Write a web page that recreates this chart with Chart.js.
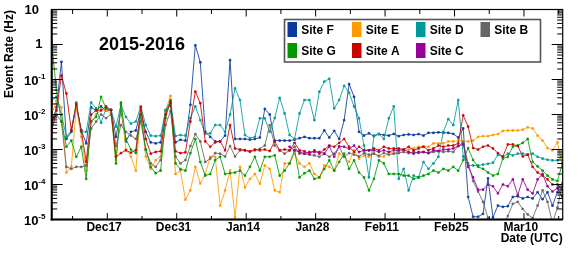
<!DOCTYPE html>
<html><head><meta charset="utf-8">
<script src="https://cdn.jsdelivr.net/npm/chart.js@4.4.1/dist/chart.umd.min.js"></script>
<style>html,body{margin:0;padding:0;background:#fff;}#wrap{width:581px;height:259px;}</style>
</head><body><div id="wrap"><canvas id="c" width="581" height="259"></canvas></div>
<script>
// one reading per day; day 0 = Dec 17 2015; first reading Dec 5 2015, last Mar 17 2016
const firstDay = -12, lastDay = 91;
const readingTime = 0.75; // time of day of each reading (fraction of a day)

const siteF = [5.0e-3,1.6e-2,0.32,2.0e-3,3.2e-3,1.8e-2,3.5e-3,1.5e-3,1.6e-2,1.3e-2,
1.7e-2,1.3e-2,1.35e-2,2.3e-3,1.3e-2,1.7e-3,3.2e-3,3.5e-3,1.3e-2,3.2e-3,
1.6e-3,1.5e-3,1.6e-3,1.35e-2,1.8e-2,1.6e-3,1.9e-3,1.8e-3,1.9e-2,0.95,
0.31,3.2e-3,2.3e-3,1.7e-3,1.7e-3,2.5e-3,0.36,2.0e-3,2.0e-3,2.0e-3,
1.9e-3,2.0e-3,2.2e-3,1.45e-2,1.0e-2,1.8e-3,1.8e-3,1.8e-3,1.8e-3,1.9e-3,
2.1e-3,2.3e-3,2.1e-3,2.1e-3,2.1e-3,3.5e-3,2.2e-3,3.4e-3,2.0e-3,6.9e-3,
7.4e-2,3.2e-2,3.2e-3,2.5e-3,2.9e-3,2.4e-3,2.75e-3,2.6e-3,2.5e-3,2.8e-3,
2.4e-3,2.6e-3,2.7e-3,2.6e-3,2.75e-3,2.5e-3,3.0e-3,3.0e-3,3.1e-3,3.0e-3,
3.0e-3,2.8e-3,2.2e-3,4.0e-3,4.4e-5,1.2e-5,1.2e-5,1.45e-5,1.5e-4,1.15e-5,
2.5e-5,2.3e-5,2.4e-5,4.4e-5,4.6e-5,4.0e-5,4.4e-5,4.0e-5,6.0e-5,3.8e-5,
6.0e-5,2.5e-5,6.0e-5,4.8e-5];
const siteE = [1.0e-2,2.5e-2,1.6e-2,2.2e-4,3.2e-4,1.6e-2,2.3e-3,2.5e-4,6.3e-3,1.0e-2,
1.4e-2,1.3e-2,1.1e-2,5.0e-4,2.1e-2,1.0e-3,6.3e-4,2.5e-4,1.3e-2,6.3e-4,
2.8e-4,5.0e-4,6.3e-4,1.3e-2,3.4e-2,2.0e-4,2.5e-4,3.7e-5,6.8e-5,3.2e-4,
1.07e-4,2.0e-4,6.2e-4,6.2e-4,2.5e-5,6.8e-5,2.5e-4,1.15e-5,3.2e-4,8.3e-5,
1.45e-4,2.0e-4,1.05e-4,3.5e-4,2.8e-4,6.8e-5,6.0e-5,4.0e-4,4.0e-4,7.6e-4,
4.0e-4,3.2e-4,4.0e-4,2.0e-4,1.6e-4,3.5e-4,3.2e-4,2.5e-4,7.6e-4,6.2e-4,
4.4e-4,9.5e-4,5.5e-4,6.8e-4,6.2e-4,7.6e-4,6.2e-4,6.3e-4,8.5e-4,7.6e-4,
8.9e-4,9.5e-4,1.0e-3,1.07e-3,1.2e-3,1.23e-3,1.2e-3,1.5e-3,1.5e-3,1.5e-3,
1.7e-3,1.7e-3,1.8e-3,1.75e-3,1.7e-3,1.8e-3,2.3e-3,2.4e-3,2.4e-3,2.6e-3,
2.75e-3,3.4e-3,3.5e-3,3.5e-3,3.5e-3,3.7e-3,4.3e-3,4.0e-3,2.5e-3,1.8e-3,
1.1e-3,9.5e-4,1.6e-3,3.5e-4];
const siteD = [2.5e-2,3.2e-2,1.0e-2,2.3e-3,3.5e-3,2.2e-2,3.2e-3,3.2e-3,2.2e-2,1.5e-2,
5.8e-3,1.5e-2,1.35e-2,4.5e-3,1.9e-2,8.5e-3,5.5e-3,6.3e-3,1.7e-2,5.0e-3,
2.5e-3,2.4e-3,2.5e-3,1.3e-2,2.5e-2,2.4e-3,2.6e-3,2.5e-3,7.9e-3,1.7e-2,
6.9e-3,2.8e-3,2.9e-3,5.0e-3,5.0e-3,3.2e-3,1.0e-2,5.6e-2,2.6e-2,2.6e-3,
2.1e-3,2.3e-3,7.8e-3,7.8e-3,3.2e-3,7.9e-3,3.0e-2,1.07e-2,2.6e-3,2.0e-3,
1.07e-2,2.6e-2,2.6e-2,6.9e-3,4.5e-2,8.7e-2,0.105,1.5e-2,2.6e-2,6.6e-2,
4.2e-2,1.7e-2,7.8e-3,1.3e-3,1.6e-4,2.5e-3,2.8e-3,2.0e-3,7.8e-3,1.7e-2,
1.45e-4,2.8e-4,6.8e-5,1.8e-4,1.6e-4,4.4e-4,2.8e-4,4.0e-4,6.2e-4,3.2e-3,
7.4e-3,5.0e-3,2.6e-2,6.3e-4,3.5e-4,3.5e-4,3.5e-4,3.7e-4,3.9e-4,4.2e-4,
7.1e-4,6.0e-4,7.6e-4,6.8e-4,7.6e-4,7.6e-4,7.2e-4,7.6e-4,6.2e-4,5.5e-4,
5.1e-4,4.9e-4,4.9e-4,6.2e-4];
const siteB = [6.3e-3,1.0e-2,6.3e-3,3.2e-4,2.8e-4,3.2e-4,3.2e-4,3.5e-4,4.0e-3,6.3e-3,
1.0e-2,7.9e-3,1.0e-2,1.26e-3,5.0e-3,3.2e-3,2.5e-3,2.0e-3,6.3e-3,1.0e-3,
4.0e-4,3.2e-4,5.0e-4,5.0e-3,1.26e-2,6.3e-4,4.0e-4,5.0e-4,1.26e-3,2.75e-3,
1.7e-3,4.4e-4,5.5e-4,7.9e-4,7.6e-4,6.3e-4,1.26e-3,6.3e-4,9.5e-4,9.5e-4,
8.5e-4,9.5e-4,1.05e-3,1.3e-3,5.0e-3,1.3e-3,9.5e-4,7.6e-4,9.5e-4,1.2e-3,
7.6e-4,7.6e-4,7.1e-4,6.8e-4,6.2e-4,7.6e-4,6.2e-4,7.6e-4,1.2e-3,6.2e-4,
7.9e-4,7.1e-4,6.3e-4,7.9e-4,7.1e-4,7.6e-4,6.6e-4,7.9e-4,7.1e-4,7.6e-4,
7.9e-4,8.5e-4,7.9e-4,8.5e-4,7.9e-4,8.5e-4,7.9e-4,8.5e-4,8.9e-4,8.5e-4,
8.9e-4,8.5e-4,1.26e-3,1.6e-3,4.0e-4,1.26e-4,6.3e-5,3.2e-5,1.1e-5,5.0e-6,
5.0e-6,6.3e-6,1.26e-5,2.8e-5,3.2e-5,2.0e-5,1.4e-5,1.1e-5,2.5e-5,6.8e-5,
3.2e-5,7.9e-6,2.2e-5,1.1e-4];
const siteG = [1.2,5.0e-2,6.3e-3,1.2e-3,1.8e-3,6.2e-4,1.2e-3,1.45e-4,6.3e-3,8.5e-3,
3.2e-2,1.5e-2,1.35e-2,4.0e-4,2.2e-2,2.0e-3,1.0e-3,7.9e-4,1.0e-2,1.0e-3,
3.2e-4,2.1e-4,2.5e-4,7.9e-3,2.5e-2,4.0e-4,2.75e-4,2.5e-4,7.9e-4,2.0e-3,
4.4e-4,1.8e-4,2.0e-4,5.0e-4,6.2e-4,2.0e-4,2.1e-4,2.2e-4,2.5e-4,1.8e-4,
3.2e-4,6.2e-4,2.5e-4,6.2e-4,6.2e-4,6.8e-4,1.8e-4,2.5e-4,4.0e-4,9.5e-4,
1.6e-4,2.1e-4,2.5e-4,1.45e-4,1.6e-4,2.8e-4,4.9e-4,2.5e-4,4.4e-4,7.6e-4,
2.8e-4,4.9e-4,2.2e-4,1.6e-4,6.8e-5,1.45e-4,4.9e-4,4.0e-4,2.0e-4,2.0e-4,
2.0e-4,1.8e-4,1.8e-4,1.45e-4,1.6e-4,1.8e-4,2.0e-4,2.5e-4,2.2e-4,2.8e-4,
2.5e-4,3.2e-4,2.5e-4,5.0e-4,1.1e-3,5.0e-4,3.2e-4,2.8e-4,2.2e-4,1.8e-4,
2.0e-4,5.5e-4,6.2e-4,1.2e-3,1.3e-3,1.55e-3,2.0e-3,4.4e-4,3.3e-4,2.5e-4,
1.8e-4,1.4e-4,1.26e-4,4.0e-4];
const siteA = [3.2e-3,1.3e-2,0.13,4.0e-2,3.5e-3,2.0e-2,3.5e-3,4.5e-4,1.0e-2,1.35e-2,
1.3e-2,1.7e-2,1.35e-2,6.2e-4,7.9e-4,9.5e-4,8.1e-4,9.5e-4,1.6e-2,2.0e-3,
7.6e-4,8.5e-4,8.9e-4,1.0e-2,2.2e-2,8.9e-4,7.9e-4,8.3e-4,6.3e-3,4.5e-2,
2.1e-2,1.7e-3,1.2e-3,1.6e-3,1.7e-3,9.5e-4,5.0e-3,1.07e-3,1.0e-3,9.5e-4,
8.9e-4,1.0e-3,9.5e-4,1.0e-3,9.1e-4,1.7e-3,9.5e-4,1.0e-3,9.5e-4,1.55e-3,
9.5e-4,8.9e-4,7.6e-4,9.5e-4,7.6e-4,1.0e-3,1.3e-3,1.2e-3,1.55e-3,2.0e-3,
1.2e-3,8.5e-4,1.2e-3,9.5e-4,9.5e-4,1.07e-3,9.5e-4,1.2e-3,1.07e-3,1.07e-3,
1.07e-3,1.0e-3,1.2e-3,9.5e-4,1.07e-3,1.2e-3,9.5e-4,1.07e-3,1.3e-3,1.2e-3,
1.3e-3,1.3e-3,1.5e-3,9.5e-3,4.5e-3,1.1e-3,1.0e-3,1.2e-3,1.3e-3,1.07e-3,
7.9e-4,6.3e-4,1.4e-3,1.4e-3,1.26e-3,6.3e-4,7.1e-4,3.2e-4,2.2e-4,1.8e-4,
1.4e-4,1.0e-4,1.0e-4,7.1e-5];
const siteC = [...Array(48).fill(null),
1.2e-3,9.5e-4,8.5e-4,7.6e-4,8.5e-4,8.5e-4,8.5e-4,7.6e-4,1.23e-3,6.2e-4,
1.23e-3,1.2e-3,1.05e-3,1.3e-3,8.5e-4,9.5e-4,9.5e-4,9.5e-4,8.5e-4,9.5e-4,
8.5e-4,9.5e-4,9.5e-4,1.0e-3,8.5e-4,7.6e-4,8.5e-4,8.5e-4,7.9e-4,9.5e-4,
9.1e-4,1.0e-3,1.0e-3,1.07e-3,1.26e-3,1.4e-3,3.2e-4,1.6e-4,7.1e-5,7.1e-5,
1.0e-4,8.9e-5,5.6e-5,1.0e-4,8.9e-5,1.4e-4,5.0e-5,1.4e-4,7.1e-5,5.6e-5,
1.4e-4,2.0e-4,8.9e-5,6.3e-5,7.9e-5,4.5e-5];

const seriesNames = ['Site F','Site E','Site D','Site B','Site G','Site A','Site C'];
const seriesValues = [siteF, siteE, siteD, siteB, siteG, siteA, siteC];
const seriesColors = ['#0b3a9e','#ff9900','#009999','#666666','#009900','#cc0000','#990099'];
const xTickLabels = ['Dec17','Dec31','Jan14','Jan28','Feb11','Feb25','Mar10'];
const xTickDays = [0,14,28,42,56,70,84];
const yTickExps = [1,0,-1,-2,-3,-4,-5];
const chartTitle = '2015-2016';
const yTitle = 'Event Rate (Hz)';
const xTitle = 'Date (UTC)';

const days = [];
for (let d = firstDay; d <= lastDay; d++) days.push(d);

const datasets = seriesValues.map((vals, i) => ({
  label: seriesNames[i],
  data: vals.map((v, k) => ({x: days[k] + readingTime, y: v})),
  borderColor: seriesColors[i],
  backgroundColor: seriesColors[i],
  pointBackgroundColor: seriesColors[i],
  pointBorderColor: seriesColors[i],
  borderWidth: 0.85,
  pointStyle: 'rect',
  pointRadius: 1.2,
  pointBorderWidth: 0.7,
  tension: 0,
  spanGaps: false,
  order: seriesNames.length - i
}));

const F = '"Liberation Sans", Arial, Helvetica, sans-serif';

const overlay = {
  id: 'overlay',
  beforeDraw(chart) {
    const ctx = chart.ctx;
    ctx.save(); ctx.fillStyle = '#fff'; ctx.fillRect(0, 0, chart.width, chart.height); ctx.restore();
  },
  afterDraw(chart) {
    const ctx = chart.ctx, a = chart.chartArea, xs = chart.scales.x, ys = chart.scales.y;
    ctx.save();
    ctx.strokeStyle = '#000'; ctx.fillStyle = '#000';
    const line = (x1, y1, x2, y2) => { ctx.beginPath(); ctx.moveTo(x1, y1); ctx.lineTo(x2, y2); ctx.stroke(); };
    // y ticks (log, inside frame, both sides)
    ctx.lineWidth = 1;
    for (let e = -5; e <= 1; e++) {
      const y = ys.getPixelForValue(Math.pow(10, e));
      line(a.left, y, a.left + 11, y); line(a.right - 11, y, a.right, y);
      if (e < 1) for (let m = 2; m <= 9; m++) {
        const yy = ys.getPixelForValue(m * Math.pow(10, e));
        line(a.left, yy, a.left + 5.5, yy); line(a.right - 5.5, yy, a.right, yy);
      }
    }
    // x ticks every week
    for (let d = -7; d <= lastDay; d += 7) {
      const x = xs.getPixelForValue(d);
      if (x < a.left || x > a.right) continue;
      const major = xTickDays.includes(d);
      const L = major ? 6.5 : 3.5;
      line(x, a.bottom, x, a.bottom - L); line(x, a.top, x, a.top + (major ? 7 : 4.5));
    }
    // frame
    ctx.lineWidth = 1.2;
    ctx.strokeRect(a.left, a.top, a.right - a.left, a.bottom - a.top);
    ctx.lineWidth = 2;
    line(a.left, a.top, a.left, a.bottom + 1); line(a.left - 1, a.bottom, a.right, a.bottom);
    // y labels
    ctx.textBaseline = 'middle';
    yTickExps.forEach(e => {
      const y = ys.getPixelForValue(Math.pow(10, e));
      if (e === 1) {
        ctx.font = 'bold 13px ' + F; ctx.textAlign = 'right'; ctx.fillText('10', 39, y + 1.3);
      } else if (e === 0) {
        ctx.font = 'bold 13px ' + F; ctx.textAlign = 'right'; ctx.fillText('1', 42.5, y + 0.4);
      } else {
        ctx.font = 'bold 13px ' + F; ctx.textAlign = 'right'; ctx.fillText('10', 38.5, y + 2.3);
        ctx.font = 'bold 8px ' + F; ctx.textAlign = 'left'; ctx.fillText(String(e), 38.3, y - 2.3);
      }
    });
    // x labels
    ctx.font = 'bold 12px ' + F; ctx.textAlign = 'center';
    xTickLabels.forEach((t, i) => {
      ctx.fillText(t, xs.getPixelForValue(xTickDays[i]) - 3.2, 227.5);
    });
    // axis titles
    ctx.textAlign = 'right';
    ctx.fillText(xTitle, a.right, 239);
    ctx.save();
    ctx.translate(9.5, a.top + 0.5); ctx.rotate(-Math.PI / 2);
    ctx.textAlign = 'right'; ctx.fillText(yTitle, 0, 0);
    ctx.restore();
    // title
    ctx.font = 'bold 18px ' + F; ctx.textAlign = 'center';
    ctx.fillText(chartTitle, 142, 45.5);
    // legend
    ctx.lineWidth = 1.6; ctx.strokeStyle = '#555';
    ctx.strokeRect(284.5, 19.5, 256, 42.5);
    const cols = [287.5, 352, 416, 480.5];
    const rows = [22, 43];
    const place = [[0,0],[0,1],[0,2],[0,3],[1,0],[1,1],[1,2]];
    ctx.font = 'bold 12px ' + F; ctx.textAlign = 'left';
    seriesNames.forEach((n, i) => {
      const [r, c] = place[i];
      ctx.fillStyle = seriesColors[i];
      ctx.fillRect(cols[c], rows[r], 9.5, 15);
      ctx.fillStyle = '#000';
      ctx.fillText(n, cols[c] + 13.7, rows[r] + 8.8);
    });
    ctx.restore();
  }
};

new Chart(document.getElementById('c'), {
  type: 'line',
  data: { datasets },
  options: {
    responsive: false, animation: false, devicePixelRatio: 1,
    layout: { padding: { left: 51.7, right: 18.3, top: 9.5, bottom: 39.5 } },
    plugins: { legend: { display: false }, tooltip: { enabled: false } },
    scales: {
      x: { type: 'linear', min: -11.21, max: 91.81,
           grid: { display: false, drawTicks: false }, border: { display: false },
           ticks: { display: false }, afterFit: s => { s.height = 0; } },
      y: { type: 'logarithmic', min: 1e-5, max: 10,
           grid: { display: false, drawTicks: false }, border: { display: false },
           ticks: { display: false }, afterFit: s => { s.width = 0; } }
    }
  },
  plugins: [overlay]
});
</script>
</body></html>
